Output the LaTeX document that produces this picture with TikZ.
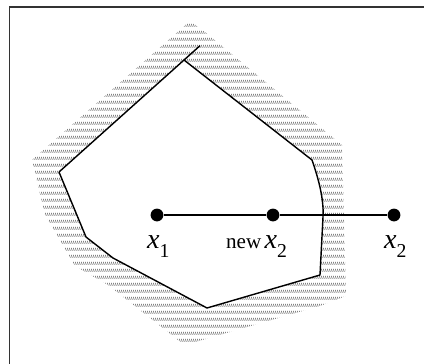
\documentclass[tikz,border=0pt]{standalone}
\usepackage{fontspec}
\setmainfont{Liberation Serif}
\usetikzlibrary{positioning}
\usetikzlibrary{patterns}

% short slanted strokes in rows
\pgfdeclarepatternformonly{dashrows}{\pgfqpoint{0pt}{0pt}}{\pgfqpoint{1.25pt}{4.7pt}}{\pgfqpoint{1.25pt}{4.7pt}}{%
  \pgfsetlinewidth{0.45pt}%
  \pgfpathmoveto{\pgfqpoint{0.15pt}{3.9pt}}%
  \pgfpathlineto{\pgfqpoint{1.05pt}{1.6pt}}%
  \pgfusepath{stroke}}

\newcommand{\xlab}[1]{\fontsize{20}{22}\selectfont\itshape x\upshape\raisebox{-0.3em}{\fontsize{14}{16}\selectfont #1}}

\tikzset{
  dot/.style={circle,fill=black,inner sep=0pt,minimum size=0.32cm},
  lab/.style={inner sep=1pt},
  edge line/.style={line width=1pt,line join=round},
}

\begin{document}
\begin{tikzpicture}[x=0.025cm,y=-0.025cm]
  \useasboundingbox (0,0) rectangle (424,364);
  % frame
  \draw[line width=1pt,black!80] (9.5,364) -- (9.5,7) -- (424,7);

  % hatched band around the region
  \fill[pattern=dashrows,pattern color=black!60]
    (190,21) -- (205,32) -- (342,145) -- (346,296) -- (320,306)
    -- (185,345) -- (178,340) -- (108,285) -- (75,266) -- (45,215)
    -- (32,160) -- cycle;
  \fill[white] (184,60) -- (59,172) -- (86,237) -- (113,258) -- (207,308)
    -- (320,275) -- (323,217) -- (320,188) -- (312,160) -- cycle;

  % region boundary
  \coordinate (p1) at (184,60);
  \coordinate (p2) at (59,172);
  \coordinate (tail) at (200,45.7);
  \draw[edge line] (p2) -- (tail);
  \draw[edge line] (p1) -- (312,160) .. controls (319,180) and (324,200) .. (323,217)
    -- (320,275) -- (207,308) -- (113,258) -- (86,237) -- (p2);

  % points
  \node[dot] (x1) at (157,215) {};
  \node[dot] (nx2) at (273,215) {};
  \node[dot] (x2) at (394,215) {};
  \draw[line width=1pt] (x1) -- (nx2) -- (x2);

  \node[lab,below=9pt of x1,xshift=1pt] (l1) {\xlab{1}};
  \node[lab,below=9pt of nx2,xshift=2pt] (l2) {\xlab{2}};
  \node[lab,anchor=base east,font=\fontsize{15}{17}\selectfont] (lnew) at (l2.base west) {new};
  \node[lab,below=9pt of x2,xshift=1pt] (l3) {\xlab{2}};
\end{tikzpicture}
\end{document}
